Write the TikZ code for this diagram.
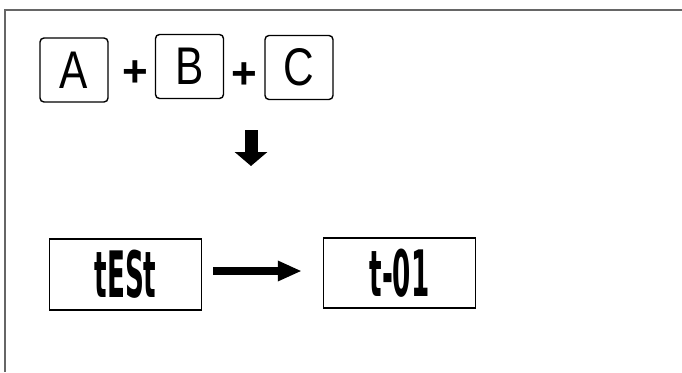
\documentclass[tikz,border=0pt]{standalone}
\usepackage{fontspec}
\newfontfamily\keyfont[FakeStretch=0.8]{Liberation Sans}
\newfontfamily\plusfont{Liberation Sans Bold}
\newfontfamily\codefont[FakeStretch=0.41]{DejaVu Sans Bold}
\usetikzlibrary{arrows.meta,positioning}
\tikzset{
  keybox/.style={draw, line width=1.4pt, rounded corners=4pt, inner sep=0pt,
                 minimum width=68pt, minimum height=64pt,
                 font=\keyfont\fontsize{53}{56}\selectfont},
  plus/.style={inner sep=0pt, font=\plusfont\fontsize{44}{46}\selectfont},
  codebox/.style={draw, line width=1.4pt, inner sep=0pt,
                  minimum width=152pt, minimum height=71pt,
                  font=\codefont\fontsize{64}{66}\selectfont},
  frame/.style={draw=black!60, line width=2pt},
  down/.style={-{Triangle[length=14pt,width=32pt]}, line width=13pt},
  link/.style={-{Triangle[length=24pt,width=19pt]}, line width=8.5pt},
}
\begin{document}
\begin{tikzpicture}[x=1pt,y=-1pt]
  \useasboundingbox (0,0) rectangle (682,372);
  \draw[frame] (5,372) -- (5,10) -- (682,10);
  % the three keys
  \node[keybox] (a) at (74,70) {A};
  \node[keybox] (b) at (189.5,66.5) {B};
  \node[keybox] (c) at (299,67.5) {C};
  \node[plus] (p1) at (135,74) {+};
  \node[plus] (p2) at (244,76) {+};
  \coordinate (dtop) at (251,130);
  \coordinate (dtip) at (251,166);
  \draw[down] (dtop) -- (dtip);
  % result
  \node[codebox] (t) at (125.5,274.5) {tESt};
  \node[codebox, minimum height=70pt] (r) at (399.5,273) {t-01};
  \draw[link, shorten <=11pt, shorten >=21pt] (t.east |- 0,271) -- (r.west |- 0,271);
\end{tikzpicture}
\end{document}
